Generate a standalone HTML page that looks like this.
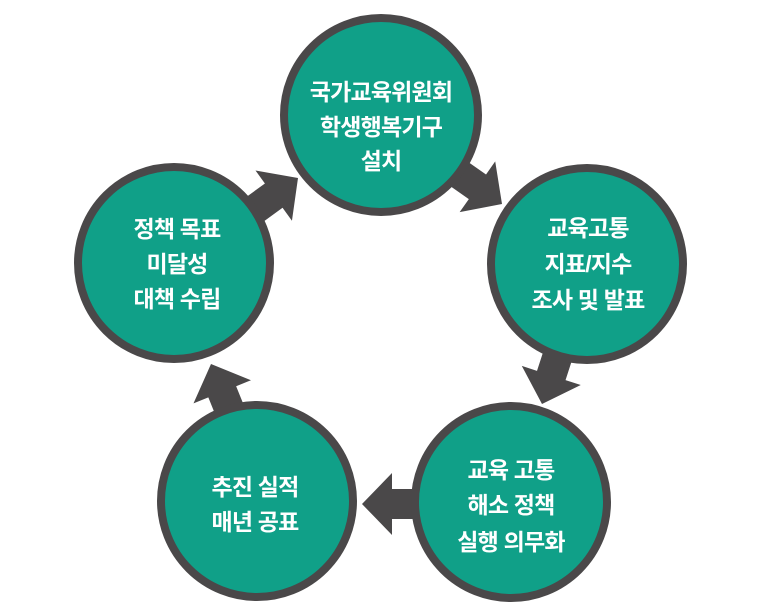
<!DOCTYPE html>
<html><head><meta charset="utf-8"><style>
html,body{margin:0;padding:0;background:#fff;}
svg{display:block;}
text{font-family:"Liberation Sans","Noto Sans CJK KR","NanumGothic",sans-serif;font-weight:bold;font-size:23px;fill:#fff;text-anchor:middle;dominant-baseline:central;letter-spacing:-0.8px;}
</style></head><body>
<svg width="761" height="614" viewBox="0 0 761 614" xmlns="http://www.w3.org/2000/svg">
<defs>
<polygon id="ar" points="-62,-15 -30,-15 -30,-31 0,0 -30,31 -30,15 -62,15" fill="#4a4849"/>
</defs>
<use href="#ar" transform="translate(298,178) rotate(-36)"/>
<use href="#ar" transform="translate(502,204) rotate(35)"/>
<use href="#ar" transform="translate(542,404) rotate(108)"/>
<use href="#ar" transform="translate(362,504) rotate(180)"/>
<use href="#ar" transform="translate(211,364) rotate(-112)"/>
<g fill="#10a088" stroke="#4a4849" stroke-width="8">
<circle cx="381" cy="115" r="97"/>
<circle cx="587" cy="264" r="96"/>
<circle cx="174" cy="263" r="96"/>
<circle cx="257" cy="501" r="96"/>
<circle cx="511" cy="502" r="96"/>
</g>
<text x="381" y="92">국가교육위원회</text>
<text x="381" y="127">학생행복기구</text>
<text x="381" y="161">설치</text>
<text x="588" y="228">교육고통</text>
<text x="588" y="264">지표/지수</text>
<text x="588" y="300">조사 및 발표</text>
<text x="177" y="229">정책 목표</text>
<text x="177" y="264">미달성</text>
<text x="177" y="299">대책 수립</text>
<text x="255" y="487">추진 실적</text>
<text x="255" y="522">매년 공표</text>
<text x="511" y="470">교육 고통</text>
<text x="511" y="505">해소 정책</text>
<text x="511" y="542">실행 의무화</text>
</svg>
</body></html>
